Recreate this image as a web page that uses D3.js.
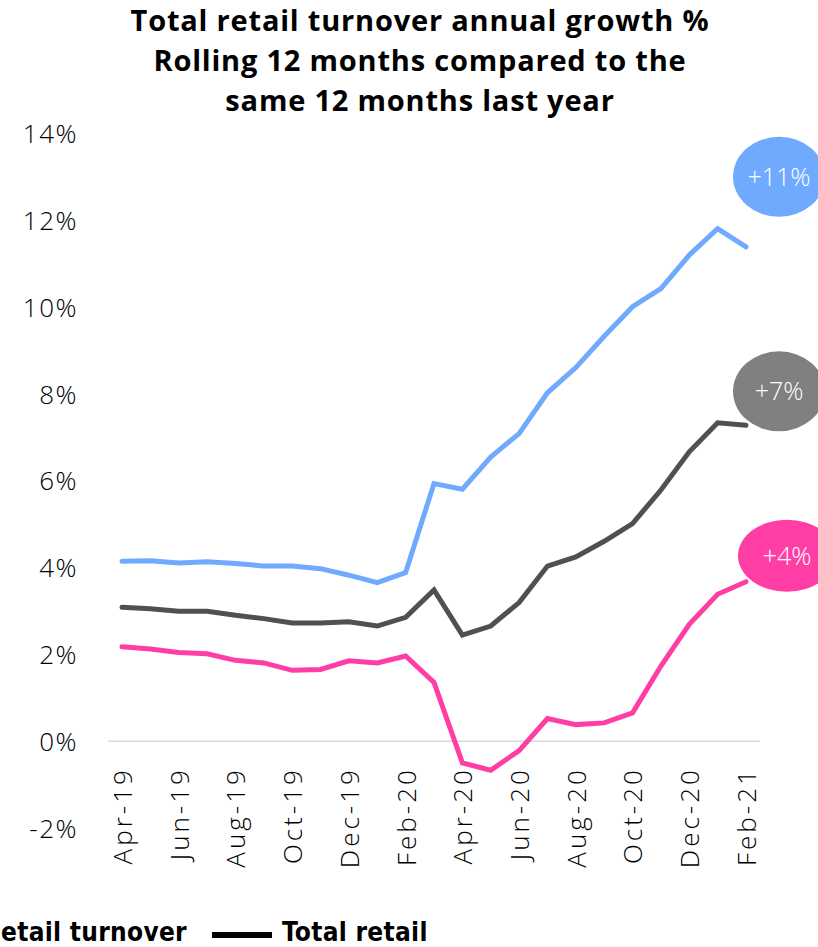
<!DOCTYPE html>
<html>
<head>
<meta charset="utf-8">
<script src="https://d3js.org/d3.v7.min.js"></script>
<title>Total retail turnover annual growth</title>
<style>
body { margin: 0; background: #fff; }
svg { display: block; }
.title { font-family: "Open Sans", sans-serif; font-weight: 700; font-size: 29px; letter-spacing: 0.8px; fill: #000; }
.ytick text { font-family: "Open Sans", sans-serif; font-weight: 300; font-size: 26px; letter-spacing: 1.5px; fill: #000; }
.xtick text { font-family: "Open Sans", sans-serif; font-weight: 300; font-size: 26px; letter-spacing: 3px; fill: #000; }
.legend { font-family: "DejaVu Sans Condensed", "DejaVu Sans", sans-serif; font-stretch: condensed; font-weight: 700; font-size: 26px; letter-spacing: 0.3px; }
.bubble { font-family: "Open Sans", sans-serif; font-weight: 300; font-size: 25px; fill: #fff; }
</style>
</head>
<body>
<svg width="818" height="947"></svg>
<script>

// months, Apr-19 .. Feb-21
let months = ["Apr-19","May-19","Jun-19","Jul-19","Aug-19","Sep-19","Oct-19","Nov-19","Dec-19","Jan-20",
  "Feb-20","Mar-20","Apr-20","May-20","Jun-20","Jul-20","Aug-20","Sep-20","Oct-20","Nov-20","Dec-20","Jan-21","Feb-21"];

let online = [4.14,4.15,4.10,4.13,4.09,4.03,4.03,3.97,3.82,3.65,3.88,5.93,5.80,6.54,7.08,8.02,8.60,9.32,10.0,10.42,11.19,11.80,11.38];
let total  = [3.08,3.05,2.99,2.99,2.90,2.82,2.72,2.72,2.75,2.65,2.85,3.48,2.44,2.65,3.19,4.03,4.24,4.60,5.01,5.78,6.66,7.33,7.27];
let store  = [2.17,2.12,2.04,2.01,1.86,1.80,1.63,1.65,1.85,1.80,1.96,1.35,-0.50,-0.67,-0.22,0.52,0.38,0.42,0.65,1.73,2.69,3.38,3.67];

let yTicks = [-2,0,2,4,6,8,10,12,14];
let bubbleLabels = ["+11%","+7%","+4%"];

let series = [
  {name: "online", values: online, color: "#70AAFF", bubble: "#70AAFF", label: bubbleLabels[0], dx: 33, dy: -70},
  {name: "total", values: total, color: "#505050", bubble: "#808080", label: bubbleLabels[1], dx: 33, dy: -34},
  {name: "store", values: store, color: "#FF3EA5", bubble: "#FF3EA5", label: bubbleLabels[2], dx: 41, dy: -26}
];

let svg = d3.select("svg");

let x = d3.scalePoint().domain(months).range([122, 746]);
let y = d3.scaleLinear().domain([-2, 14]).range([828, 133]);

// title
let titleLines = ["Total retail turnover annual growth %", "Rolling 12 months compared to the", "same 12 months last year"];
svg.append("g").selectAll("text")
  .data(titleLines)
  .enter().append("text")
  .attr("class", "title")
  .attr("x", 420)
  .attr("y", function(d, i){ return 31 + i*40; })
  .attr("text-anchor", "middle")
  .text(function(d){ return d; });

// zero line
svg.append("line")
  .attr("x1", 108).attr("x2", 760)
  .attr("y1", y(0)).attr("y2", y(0))
  .attr("stroke", "#d9d9d9").attr("stroke-width", 1.5);

// y axis
let yAxis = svg.append("g")
  .attr("class", "ytick")
  .attr("transform", "translate(78,0)")
  .call(d3.axisLeft(y).tickValues(yTicks).tickSize(0).tickPadding(0)
    .tickFormat(function(d){ return d + "%"; }));
yAxis.select(".domain").remove();
yAxis.selectAll(".tick text").attr("dy", "0.36em");

// x axis
let xAxis = svg.append("g")
  .attr("class", "xtick")
  .attr("transform", "translate(0," + (y(0) + 26) + ")")
  .call(d3.axisBottom(x).tickValues(months.filter(function(d, i){ return i % 2 === 0; })).tickSize(0).tickPadding(0));
xAxis.select(".domain").remove();
xAxis.selectAll(".tick text")
  .attr("transform", "rotate(-90)")
  .attr("text-anchor", "end")
  .attr("x", 0)
  .attr("y", 0)
  .attr("dy", "0.36em");

// lines
let line = d3.line()
  .x(function(d, i){ return x(months[i]); })
  .y(function(d){ return y(d); });

svg.append("g").selectAll("path")
  .data(series)
  .enter().append("path")
  .attr("d", function(d){ return line(d.values); })
  .attr("fill", "none")
  .attr("stroke", function(d){ return d.color; })
  .attr("stroke-width", 5)
  .attr("stroke-linejoin", "miter")
  .attr("stroke-linecap", "round");

// end bubbles
let last = months.length - 1;
let bubbles = svg.append("g").selectAll("g")
  .data(series)
  .enter().append("g")
  .attr("transform", function(d){
    return "translate(" + (x(months[last]) + d.dx) + "," + (y(d.values[last]) + d.dy) + ")";
  });
bubbles.append("ellipse")
  .attr("rx", function(d, i){ return i === 2 ? 49 : 46; })
  .attr("ry", function(d, i){ return i === 2 ? 36 : 40; })
  .attr("fill", function(d){ return d.bubble; });
bubbles.append("text")
  .attr("class", "bubble")
  .attr("text-anchor", "middle")
  .attr("dy", "0.36em")
  .text(function(d){ return d.label; });

// legend (first entry cut at left edge, as in the reference)
let legend = svg.append("g").attr("class", "legend");
legend.append("text").attr("x", 1).attr("y", 941).text("etail turnover");
legend.append("line")
  .attr("x1", 212).attr("x2", 272).attr("y1", 935).attr("y2", 935)
  .attr("stroke", "#000").attr("stroke-width", 6);
legend.append("text").attr("x", 282).attr("y", 941).text("Total retail");

</script>
</body>
</html>
